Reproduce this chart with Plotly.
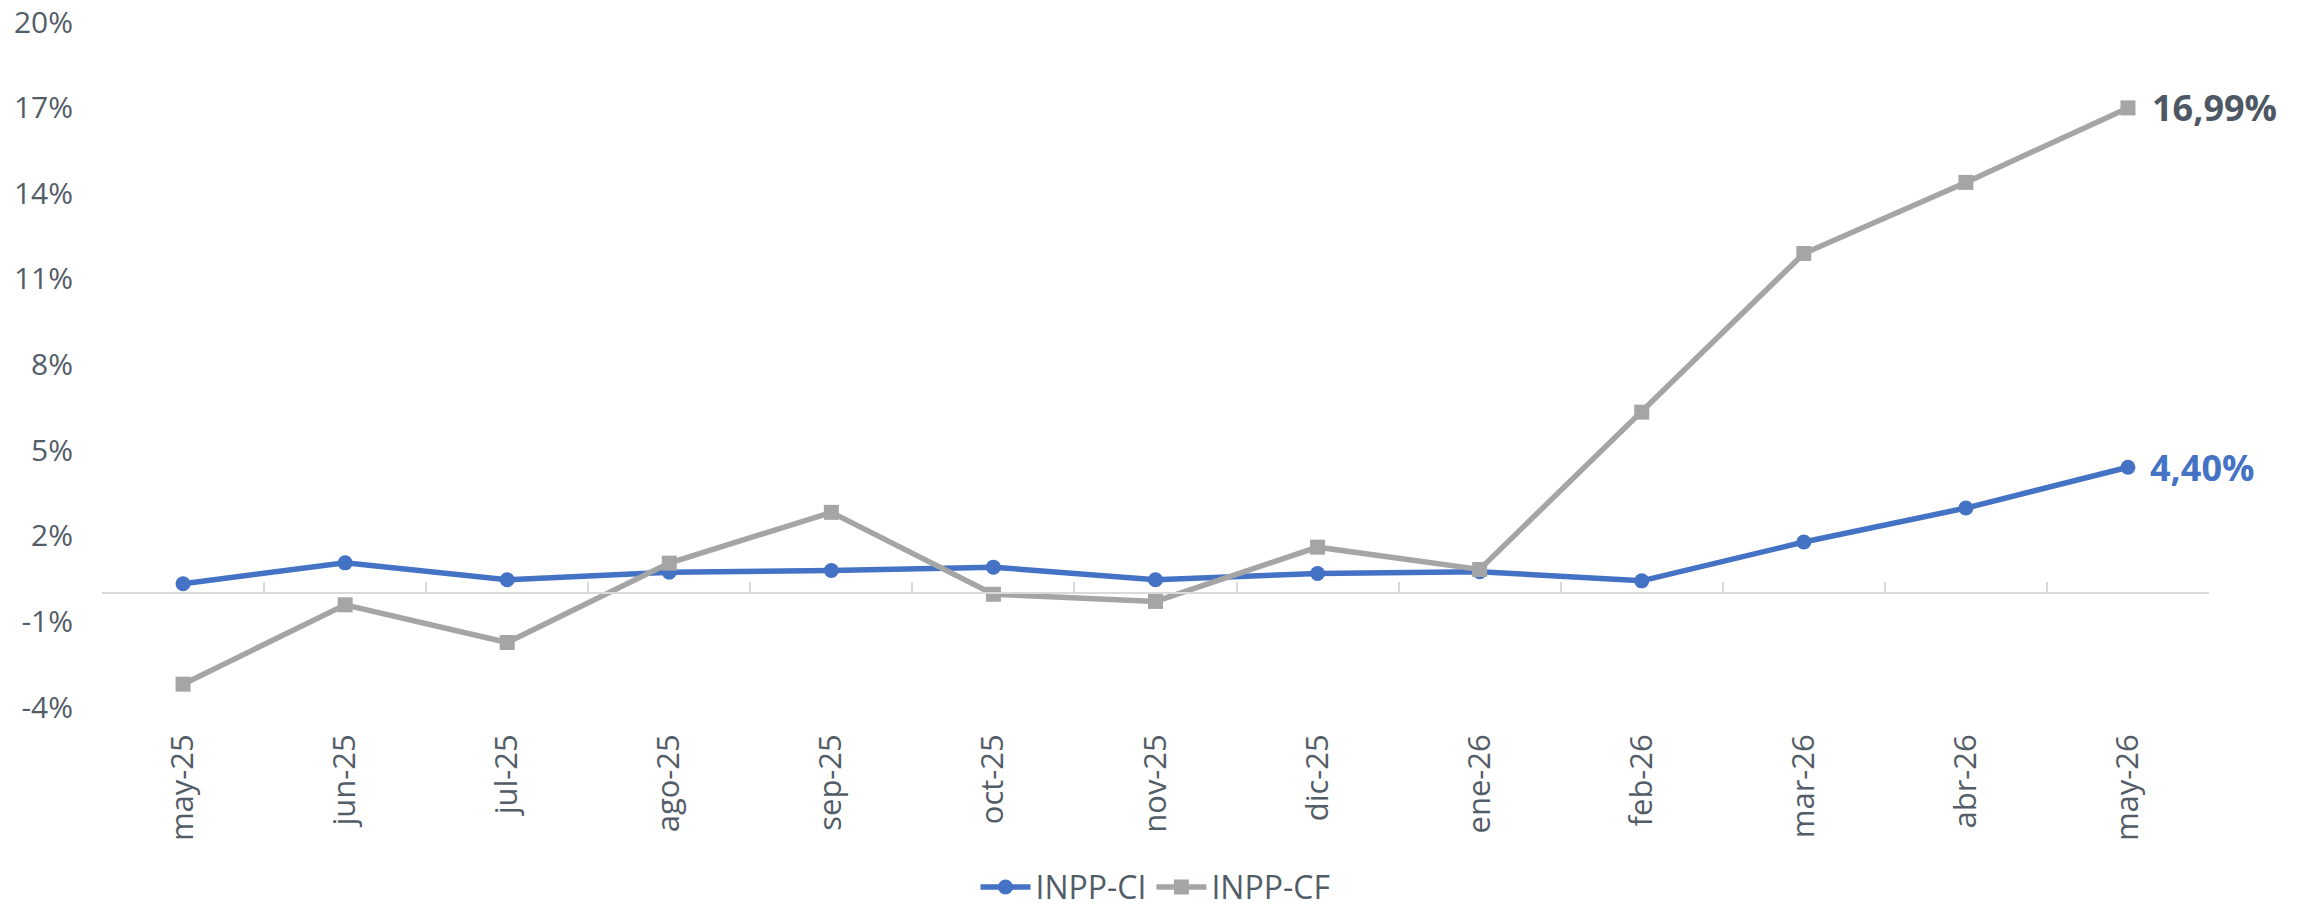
import plotly.graph_objects as go

months = ["may-25", "jun-25", "jul-25", "ago-25", "sep-25", "oct-25", "nov-25",
          "dic-25", "ene-26", "feb-26", "mar-26", "abr-26", "may-26"]
inpp_ci = [0.32, 1.05, 0.46, 0.72, 0.78, 0.90, 0.46, 0.68, 0.74, 0.42, 1.78, 2.97, 4.40]
inpp_cf = [-3.20, -0.42, -1.74, 1.04, 2.82, -0.05, -0.30, 1.60, 0.82, 6.33, 11.89, 14.38, 16.99]
y_ticks = [-4, -1, 2, 5, 8, 11, 14, 17, 20]
y_tick_text = ["-4%", "-1%", "2%", "5%", "8%", "11%", "14%", "17%", "20%"]

BLUE = "#4472C4"
GRAY = "#A5A5A5"
TEXT = "#535D68"
FONT = "Open Sans"

def fmt(v):
    return f"{v:.2f}".replace(".", ",") + "%"

fig = go.Figure()
fig.add_trace(go.Scatter(
    x=months, y=inpp_ci, name="INPP-CI", mode="lines+markers",
    line=dict(color=BLUE, width=5.5), marker=dict(symbol="circle", size=15, color=BLUE),
))
fig.add_trace(go.Scatter(
    x=months, y=inpp_cf, name="INPP-CF", mode="lines+markers",
    line=dict(color=GRAY, width=5.5), marker=dict(symbol="square", size=15, color=GRAY),
))
# invisible trace for the zero-crossing category axis
fig.add_trace(go.Scatter(x=months, y=[None] * len(months), xaxis="x2", yaxis="y",
                         showlegend=False, hoverinfo="skip", mode="lines"))

fig.add_annotation(x=months[-1], y=inpp_cf[-1], text=fmt(inpp_cf[-1]), showarrow=False,
                   xanchor="left", yanchor="middle", xshift=22,
                   font=dict(family=FONT, size=36, color="#4D5864", weight="bold"))
fig.add_annotation(x=months[-1], y=inpp_ci[-1], text=fmt(inpp_ci[-1]), showarrow=False,
                   xanchor="left", yanchor="middle", xshift=20,
                   font=dict(family=FONT, size=36, color=BLUE, weight="bold"))

ymin, ymax = -4, 20
fig.update_layout(
    width=2311, height=913,
    margin=dict(l=102, r=102, t=22, b=206, autoexpand=False),
    paper_bgcolor="white", plot_bgcolor="white",
    font=dict(family=FONT, color=TEXT, size=30),
    showlegend=True,
    legend=dict(orientation="h", x=0.5, xanchor="center", y=-0.263, yanchor="middle",
                font=dict(size=32, color=TEXT), itemwidth=50),
    xaxis=dict(type="category", range=[-0.5, 12.5], showline=False, showgrid=False,
               zeroline=False, ticks="", tickangle=-90, ticklabelstandoff=20,
               tickfont=dict(size=31, color=TEXT)),
    xaxis2=dict(type="category", range=[-0.5, 12.5], overlaying="x", anchor="free",
                position=(0 - ymin) / (ymax - ymin), side="bottom",
                showline=True, linecolor="#D9D9D9", linewidth=2,
                ticks="inside", tickson="boundaries", ticklen=10, tickcolor="#D9D9D9",
                tickwidth=2, showticklabels=False, showgrid=False, zeroline=False),
    yaxis=dict(range=[ymin, ymax], tickvals=y_ticks, ticktext=y_tick_text,
               showgrid=False, zeroline=False, showline=False, ticks="",
               ticklabelstandoff=28, tickfont=dict(size=30, color=TEXT)),
)

fig.write_html("out.html", config={"displayModeBar": False},
               post_script="document.body.style.margin='0px';document.body.style.overflow='hidden';")
